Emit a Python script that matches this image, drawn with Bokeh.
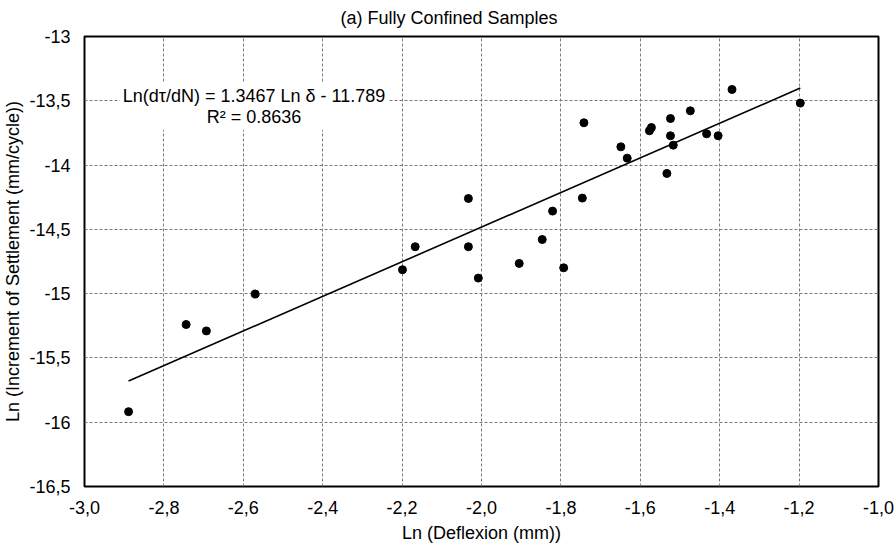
from bokeh.plotting import figure
from bokeh.models import Range1d, FixedTicker, Label
from bokeh.embed import file_html
from bokeh.resources import INLINE

# ---- data ----
ln_deflexion = [-2.889, -2.744, -2.693, -2.570, -2.199, -2.167, -2.033, -2.033, -2.008,
                -1.905, -1.847, -1.821, -1.793, -1.746, -1.742, -1.649, -1.633, -1.577,
                -1.572, -1.533, -1.524, -1.524, -1.517, -1.474, -1.433, -1.404, -1.369,
                -1.197]
ln_settlement = [-15.918, -15.240, -15.290, -15.003, -14.814, -14.635, -14.260, -14.635, -14.879,
                 -14.765, -14.579, -14.358, -14.799, -14.257, -13.671, -13.858, -13.946, -13.733,
                 -13.708, -14.065, -13.638, -13.772, -13.845, -13.578, -13.757, -13.772, -13.412,
                 -13.518]
fit_slope = 1.3467
fit_intercept = -11.789
fit_r2 = 0.8636

x_ticks = [-3.0, -2.8, -2.6, -2.4, -2.2, -2.0, -1.8, -1.6, -1.4, -1.2, -1.0]
x_tick_labels = ["-3,0", "-2,8", "-2,6", "-2,4", "-2,2", "-2,0", "-1,8", "-1,6", "-1,4", "-1,2", "-1,0"]
y_ticks = [-13.0, -13.5, -14.0, -14.5, -15.0, -15.5, -16.0, -16.5]
y_tick_labels = ["-13", "-13,5", "-14", "-14,5", "-15", "-15,5", "-16", "-16,5"]

title_text = "(a) Fully Confined Samples"
x_title = "Ln (Deflexion (mm))"
y_title = "Ln (Increment of Settlement (mm/cycle))"

FONT = "Liberation Sans"
FS = "18px"

p = figure(width=896, height=547, output_backend="svg", toolbar_location=None,
           x_range=Range1d(-3.0, -1.0), y_range=Range1d(-16.5, -13.0),
           min_border_left=82, min_border_right=18, min_border_top=36, min_border_bottom=61)
p.title.text = title_text
p.title.align = "left"
p.title.vertical_align = "top"
p.title.offset = 256
p.title.text_font = FONT
p.title.text_font_size = FS
p.title.text_font_style = "normal"
p.title.text_color = "black"
p.title.standoff = 14
p.background_fill_color = "white"
p.border_fill_color = "white"
p.outline_line_color = "black"
p.outline_line_width = 2

# axes
p.xaxis.ticker = FixedTicker(ticks=x_ticks)
p.yaxis.ticker = FixedTicker(ticks=y_ticks)
p.xaxis.major_label_overrides = {t: l for t, l in zip(x_ticks, x_tick_labels)}
p.yaxis.major_label_overrides = {t: l for t, l in zip(y_ticks, y_tick_labels)}
for ax in (p.xaxis, p.yaxis):
    ax.axis_line_color = None
    ax.major_tick_line_color = None
    ax.minor_tick_line_color = None
    ax.major_tick_in = 0
    ax.major_tick_out = 0
    ax.major_label_text_font = FONT
    ax.major_label_text_font_size = FS
    ax.major_label_text_color = "black"
    ax.axis_label_text_font = FONT
    ax.axis_label_text_font_size = FS
    ax.axis_label_text_font_style = "normal"
    ax.axis_label_text_color = "black"
p.xaxis.axis_label = x_title
p.yaxis.axis_label = y_title
p.xaxis.major_label_standoff = 14
p.yaxis.major_label_standoff = 14
p.xaxis.axis_label_standoff = 6
p.yaxis.axis_label_standoff = 3

# grid
for g in (p.xgrid, p.ygrid):
    g.grid_line_color = "#7a7a7a"
    g.grid_line_dash = "3 2"
    g.grid_line_width = 1
p.xgrid.ticker = FixedTicker(ticks=x_ticks)
p.ygrid.ticker = FixedTicker(ticks=y_ticks)

# regression line
x_fit = [min(ln_deflexion), max(ln_deflexion)]
y_fit = [fit_slope * v + fit_intercept for v in x_fit]
p.line(x_fit, y_fit, line_color="black", line_width=1.6)

# points
p.scatter(ln_deflexion, ln_settlement, size=8, marker="circle",
          fill_color="black", line_color="black")

# equation label
eq = Label(x=-2.573, y=-13.543,
           text="Ln(d\u03c4/dN) = 1.3467 Ln \u03b4 - 11.789\nR\u00b2 = 0.8636",
           text_align="center", text_baseline="middle",
           text_font=FONT, text_font_size=FS, text_color="black",
           text_line_height=1.05,
           background_fill_color="white", padding=3)
p.add_layout(eq)

open("out.html", "w").write(file_html(p, INLINE))
